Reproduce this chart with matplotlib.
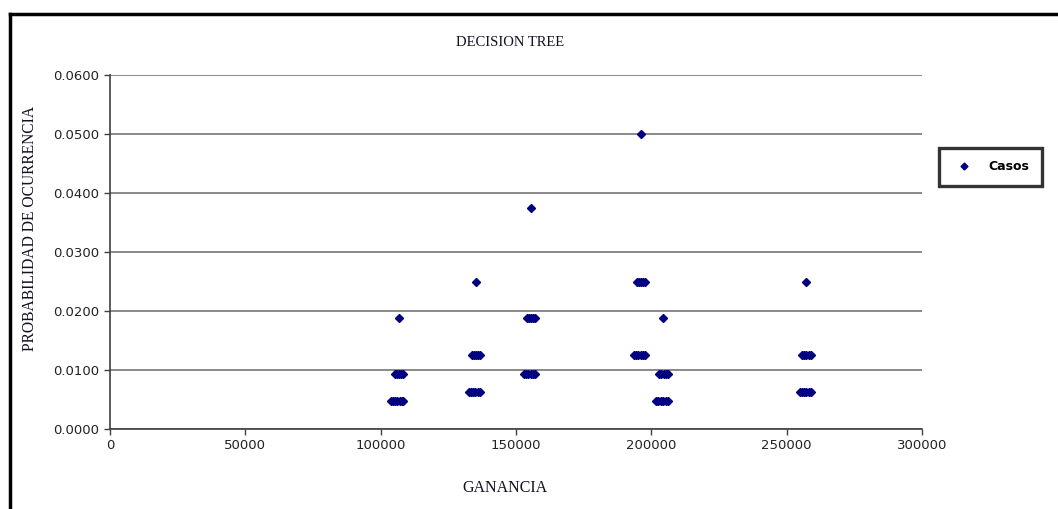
import matplotlib.pyplot as plt
from matplotlib.lines import Line2D

# Data (ganancia, probabilidad)
ganancia = [
    106800,
    105300, 106000, 106800, 107500, 108200,
    103800, 104600, 105400, 106200, 107000, 107700, 108200,
    135200,
    133700, 134500, 135200, 136000, 136700,
    132600, 133400, 134200, 135000, 135800, 136700,
    155400,
    154000, 154700, 155500, 156300, 157000,
    153000, 153800, 154600, 155400, 156200, 157000,
    196200,
    194700, 195400, 196200, 197000, 197700,
    193600, 194400, 195200, 196000, 196800, 197700,
    204300,
    202800, 203600, 204500, 205400, 206200,
    201700, 202600, 203500, 204400, 205300, 206200,
    257100,
    255700, 256500, 257300, 258100, 259000,
    254900, 255700, 256500, 257300, 258100, 259000,
]
probabilidad = [
    0.01875,
    0.009375, 0.009375, 0.009375, 0.009375, 0.009375,
    0.0046875, 0.0046875, 0.0046875, 0.0046875, 0.0046875, 0.0046875, 0.0046875,
    0.025,
    0.0125, 0.0125, 0.0125, 0.0125, 0.0125,
    0.00625, 0.00625, 0.00625, 0.00625, 0.00625, 0.00625,
    0.0375,
    0.01875, 0.01875, 0.01875, 0.01875, 0.01875,
    0.009375, 0.009375, 0.009375, 0.009375, 0.009375, 0.009375,
    0.05,
    0.025, 0.025, 0.025, 0.025, 0.025,
    0.0125, 0.0125, 0.0125, 0.0125, 0.0125, 0.0125,
    0.01875,
    0.009375, 0.009375, 0.009375, 0.009375, 0.009375,
    0.0046875, 0.0046875, 0.0046875, 0.0046875, 0.0046875, 0.0046875,
    0.025,
    0.0125, 0.0125, 0.0125, 0.0125, 0.0125,
    0.00625, 0.00625, 0.00625, 0.00625, 0.00625, 0.00625,
]
x_ticks = [0, 50000, 100000, 150000, 200000, 250000, 300000]
y_ticks = [0.0, 0.01, 0.02, 0.03, 0.04, 0.05, 0.06]

fig = plt.figure(figsize=(10.58, 5.09), dpi=100)
ax = fig.add_axes([110 / 1058, 1 - 429 / 509, 812 / 1058, 354 / 509])

ax.plot(ganancia, probabilidad, linestyle='none', marker='D', markersize=4.5,
        color='#000080', label='Casos')

ax.set_xlim(0, 300000)
ax.set_ylim(0, 0.06)
ax.set_xticks(x_ticks)
ax.set_yticks(y_ticks)
ax.set_xticklabels([str(v) for v in x_ticks])
ax.set_yticklabels(['%.4f' % v for v in y_ticks])
ax.tick_params(labelsize=9.5, length=4, width=1, color='#404040', direction='out',
               labelcolor='#222222')
ax.grid(axis='y', color='#808080', linewidth=1.3)
ax.set_axisbelow(True)
for side in ['top', 'right']:
    ax.spines[side].set_visible(False)
for side in ['left', 'bottom']:
    ax.spines[side].set_color('#404040')
    ax.spines[side].set_linewidth(1.2)

serif = ['Liberation Serif', 'DejaVu Serif']
fig.text(510 / 1058, 1 - 42 / 509, 'DECISION TREE', ha='center', va='center',
         family=serif, fontsize=10.5, color='#111122')
fig.text(505 / 1058, 1 - 488 / 509, 'GANANCIA', ha='center', va='center',
         family=serif, fontsize=11.5, color='#111122')
fig.text(30 / 1058, 1 - 228 / 509, 'PROBABILIDAD DE OCURRENCIA', ha='center',
         va='center', rotation=90, family=serif, fontsize=11.2, color='#111122')

# legend box
handle = Line2D([], [], linestyle='none', marker='D', markersize=3.5, color='#000080')
leg = fig.legend([handle], ['Casos'], loc='center', bbox_to_anchor=(990.5 / 1058, 1 - 167 / 509),
                 frameon=True, fancybox=False, borderpad=1.0, handletextpad=1.0,
                 borderaxespad=0, prop={'family': 'DejaVu Sans', 'weight': 'bold', 'size': 9})
leg.get_frame().set_edgecolor('black')
leg.get_frame().set_linewidth(2.4)

# outer frame (top and left edges)
fig.add_artist(Line2D([10 / 1058, 1], [1 - 14 / 509, 1 - 14 / 509], color='black', linewidth=2.5))
fig.add_artist(Line2D([10 / 1058, 10 / 1058], [0, 1 - 14 / 509], color='black', linewidth=2.5))

fig.savefig('out.png', dpi=100)
